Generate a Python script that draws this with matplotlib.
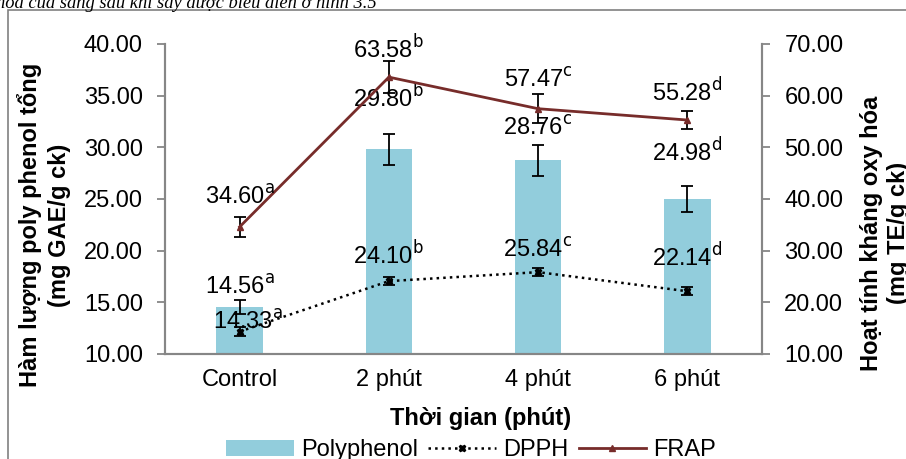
import numpy as np
import matplotlib.pyplot as plt
from matplotlib.patches import Patch, Rectangle
from matplotlib.lines import Line2D

plt.rcParams['font.family'] = ['Liberation Sans', 'DejaVu Sans']

# du lieu
categories = ["Control", "2 phút", "4 phút", "6 phút"]
polyphenol = [14.56, 29.80, 28.76, 24.98]
polyphenol_err = [0.7, 1.5, 1.5, 1.25]
polyphenol_sig = ["a", "b", "c", "d"]
dpph = [14.33, 24.10, 25.84, 22.14]
dpph_err = [0.8, 0.8, 0.8, 0.8]
dpph_sig = ["a", "b", "c", "d"]
frap = [34.60, 63.58, 57.47, 55.28]
frap_err = [1.9, 3.1, 2.8, 1.75]
frap_sig = ["a", "b", "c", "d"]

# offsets of the value labels (pixels)
poly_off = [(0, 20), (0, 51), (0, 32), (0, 47)]
dpph_off = [(8, 10), (0, 26), (0, 22), (0, 34)]
frap_off = [(0, 30), (0, 28), (0, 29), (0, 28)]

bar_color = "#92CDDC"
frap_color = "#772C2A"
axis_gray = "#868686"
fs = 17

fig = plt.figure(figsize=(9.06, 4.59), dpi=100)
ax = fig.add_axes([0.1821, 0.2288, 0.659, 0.6754])
ax2 = ax.twinx()

x = np.arange(len(categories))
ax.bar(x, polyphenol, width=0.31, color=bar_color, zorder=1)
ax.errorbar(x, polyphenol, yerr=polyphenol_err, fmt="none", ecolor="black",
            elinewidth=1.3, capsize=4.5, capthick=1.3, zorder=2)

ax2.errorbar(x, frap, yerr=frap_err, color=frap_color, lw=2, marker="^",
             ms=5, ecolor="black", elinewidth=1.3, capsize=4.5, capthick=1.3)
ax2.errorbar(x, dpph, yerr=dpph_err, color="black", ls=":", lw=1.8, marker="X",
             ms=5, ecolor="black", elinewidth=1.3, capsize=4.5, capthick=1.3)

def label(a, xv, yv, sig, off):
    a.annotate(f"{yv:.2f}$^{{\\mathrm{{{sig}}}}}$", (xv, yv), xytext=off,
               textcoords="offset pixels", ha="center", va="center", fontsize=fs)

for i in range(len(categories)):
    label(ax, x[i], polyphenol[i], polyphenol_sig[i], poly_off[i])
    label(ax2, x[i], dpph[i], dpph_sig[i], dpph_off[i])
    label(ax2, x[i], frap[i], frap_sig[i], frap_off[i])

ax.set_xlim(-0.5, 3.5)
ax.set_ylim(10, 40)
ax2.set_ylim(10, 70)
ax.set_yticks(np.arange(10, 40.1, 5))
ax2.set_yticks(np.arange(10, 70.1, 10))
ax.set_yticklabels([f"{v:.2f}" for v in np.arange(10, 40.1, 5)])
ax2.set_yticklabels([f"{v:.2f}" for v in np.arange(10, 70.1, 10)])
ax.set_xticks(x)
ax.set_xticklabels(categories)

for a in (ax, ax2):
    a.spines["top"].set_visible(False)
    for s in ("left", "right", "bottom"):
        a.spines[s].set_color(axis_gray)
        a.spines[s].set_linewidth(1.5)
    a.tick_params(axis="y", colors=axis_gray, labelcolor="black",
                  labelsize=fs, length=6, width=1.3, direction="out", pad=10)
ax.tick_params(axis="x", length=0, labelsize=fs, pad=11)

fig.text(0.53, 0.089, "Thời gian (phút)", ha="center", va="center",
         fontsize=fs, fontweight="bold")
fig.text(0.033, 0.51, "Hàm lượng poly phenol tổng", rotation=90,
         ha="center", va="center", fontsize=fs, fontweight="bold")
fig.text(0.066, 0.51, "(mg GAE/g ck)", rotation=90,
         ha="center", va="center", fontsize=fs, fontweight="bold")
fig.text(0.962, 0.492, "Hoạt tính kháng oxy hóa", rotation=90,
         ha="center", va="center", fontsize=fs, fontweight="bold")
fig.text(0.992, 0.492, "(mg TE/g ck)", rotation=90,
         ha="center", va="center", fontsize=fs, fontweight="bold")

handles = [
    Patch(facecolor=bar_color, edgecolor="none"),
    Line2D([], [], color="black", ls=":", lw=1.8, marker="X", ms=5),
    Line2D([], [], color=frap_color, lw=2, marker="^", ms=5),
]
fig.legend(handles, ["Polyphenol", "DPPH", "FRAP"], ncol=3, loc="center",
           bbox_to_anchor=(0.52, 0.019), frameon=False, fontsize=fs,
           handlelength=2.85, handletextpad=0.3, columnspacing=0.45)

# khung ngoai va dong chu phia tren
fig.patches.append(Rectangle((0.0088, -0.1), 1.2, 1.078, transform=fig.transFigure,
                             fill=False, edgecolor="#808080", lw=1.2))
fig.text(-0.004, 0.9815, "hóa của sáng sau khi sấy được biểu diễn ở hình 3.5",
         ha="left", va="baseline", fontsize=13.3, style="italic",
         family=["Liberation Serif", "DejaVu Serif"])

fig.savefig("out.png", dpi=100)
